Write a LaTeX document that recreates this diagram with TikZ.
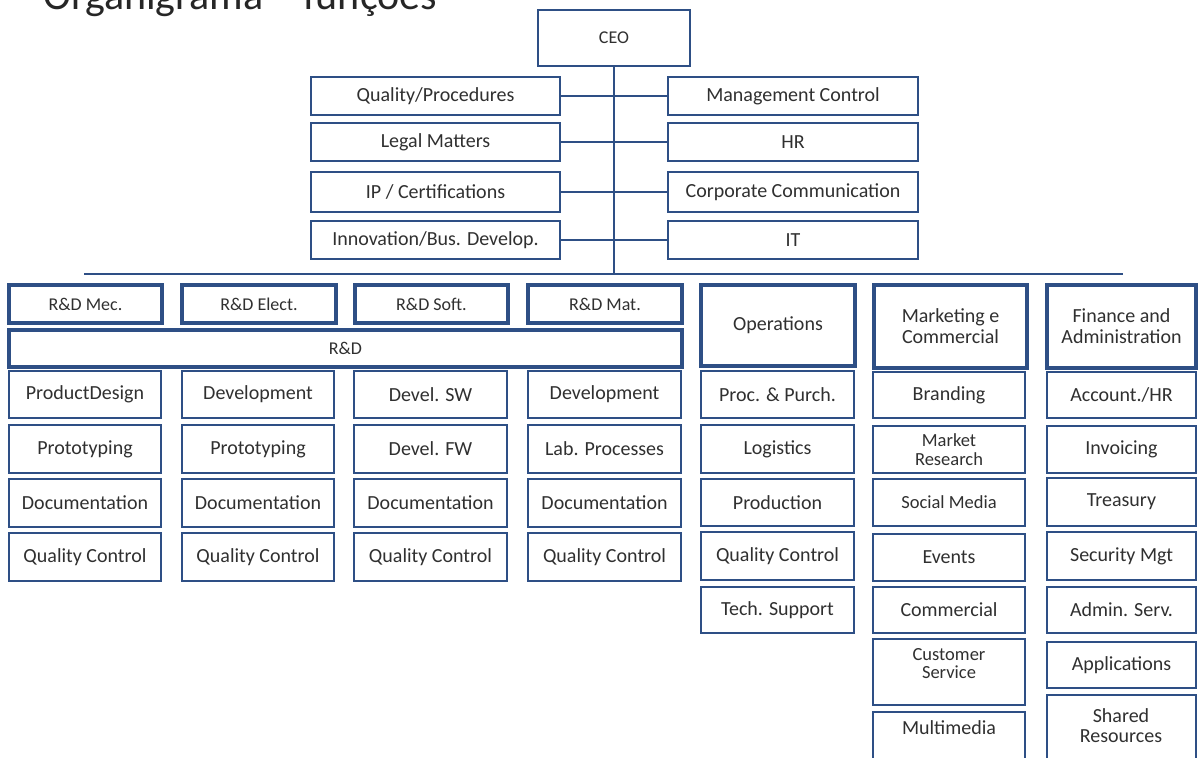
\documentclass[tikz,border=0pt]{standalone}
\usepackage{fontspec}
\setmainfont{Carlito}
\definecolor{bcol}{HTML}{2E4F85}
\definecolor{tcol}{HTML}{303030}
\newcommand{\bx}[7][]{%
  \pgfmathsetmacro\bxw{#5-#3}\pgfmathsetmacro\bxh{#6-#4}%
  \pgfmathsetmacro\bxcx{(#3+#5)/2}\pgfmathsetmacro\bxcy{(#4+#6)/2}%
  \node[box,#1,minimum width=\bxw pt,minimum height=\bxh pt] (#2) at (\bxcx,\bxcy) {#7};}
\begin{document}
\begin{tikzpicture}[x=1pt,y=-1pt,
  box/.style={draw=bcol,line width=2.8pt,fill=white,inner sep=0pt,align=center,text=tcol,font=\fontsize{20}{21}\selectfont},
  head/.style={line width=4.2pt},
  small/.style={font=\fontsize{18}{19}\selectfont},
  lbl/.style={inner sep=0pt,align=center,text=tcol,font=\fontsize{18.5}{18}\selectfont},
  conn/.style={draw=bcol,line width=2.6pt}]
\useasboundingbox (0,0) rectangle (1198,757);
\clip (0,0) rectangle (1198,757);
\node[anchor=base west,inner sep=0pt,text=black!85,font=\fontsize{42}{46}\selectfont] (title) at (43,10) {Organigrama – funções};
% CEO and staff
\bx[small]{ceo}{538}{10}{690}{66}{CEO}
\bx{qp}{311}{77}{560}{115}{Quality/Procedures}
\bx{lm}{311}{123}{560}{161}{Legal Matters}
\bx{ipc}{311}{172}{560}{212}{IP / Certifications}
\bx{inn}{311}{221}{560}{259}{Innovation/Bus. Develop.}
\bx{mc}{668}{77}{918}{115}{Management Control}
\bx{hr}{668}{123}{918}{161}{HR}
\bx{cc}{668}{172}{918}{212}{Corporate Communication}
\bx{it}{668}{221}{918}{259}{IT}
\coordinate (hl) at (84,274);
\coordinate (hr2) at (1123,274);
\draw[conn] (hl) -- (hr2);
\draw[conn] (ceo.south) -- (ceo.south |- hl);
\draw[conn] (qp.east) -- (mc.west);
\draw[conn] (lm.east) -- (hr.west);
\draw[conn] (ipc.east) -- (cc.west);
\draw[conn] (inn.east) -- (it.west);
% R&D
\bx[head,small]{rdm}{9}{285}{162}{323}{R\&D Mec.}
\bx[head,small]{rde}{182}{285}{336}{323}{R\&D Elect.}
\bx[head,small]{rds}{355}{285}{508}{323}{R\&D Soft.}
\bx[head,small]{rdt}{528}{285}{682}{323}{R\&D Mat.}
\bx[head,small]{rd}{9}{330}{682}{367}{R\&D}
\bx{a1}{9}{371}{161}{418}{ProductDesign}
\bx{a2}{9}{425}{161}{473}{Prototyping}
\bx{a3}{9}{479}{161}{527}{Documentation}
\bx{a4}{9}{533}{161}{581}{Quality Control}
\bx{b1}{182}{371}{334}{418}{Development}
\bx{b2}{182}{425}{334}{473}{Prototyping}
\bx{b3}{182}{479}{334}{527}{Documentation}
\bx{b4}{182}{533}{334}{581}{Quality Control}
\bx{c1}{354}{371}{507}{418}{Devel. SW}
\bx{c2}{354}{425}{507}{473}{Devel. FW}
\bx{c3}{354}{479}{507}{527}{Documentation}
\bx{c4}{354}{533}{507}{581}{Quality Control}
\bx{d1}{528}{371}{681}{418}{Development}
\bx{d2}{528}{425}{681}{473}{Lab. Processes}
\bx{d3}{528}{479}{681}{527}{Documentation}
\bx{d4}{528}{533}{681}{581}{Quality Control}
% Operations
\bx[head]{ops}{701}{285}{855}{366}{Operations}
\bx{o1}{701}{371}{854}{418}{Proc. \& Purch.}
\bx{o2}{701}{425}{854}{473}{Logistics}
\bx{o3}{701}{479}{854}{526}{Production}
\bx{o4}{701}{532}{854}{580}{Quality Control}
\bx{o5}{701}{587}{854}{633}{Tech. Support}
% Marketing
\bx[head]{mkt}{874}{285}{1027}{368}{Marketing e\\Commercial}
\bx{m1}{873}{372}{1025}{418}{Branding}
\bx[small,font=\fontsize{18.5}{19}\selectfont]{m2}{873}{426}{1025}{473}{Market\\Research}
\bx[small,font=\fontsize{18.5}{19}\selectfont]{m3}{873}{479}{1025}{526}{Social Media}
\bx{m4}{873}{534}{1025}{581}{Events}
\bx{m5}{873}{587}{1025}{633}{Commercial}
\bx{m6}{873}{639}{1025}{705}{}
\node[lbl] (m6t) at (949,664) {Customer\\Service};
\bx{m7}{873}{712}{1025}{775}{}
\node[lbl,font=\fontsize{20}{21}\selectfont] (m7t) at (949,728) {Multimedia};
% Finance
\bx[head]{fin}{1047}{285}{1196}{368}{Finance and\\Administration}
\bx{f1}{1047}{372}{1196}{418}{Account./HR}
\bx{f2}{1047}{426}{1196}{473}{Invoicing}
\bx{f3}{1047}{478}{1196}{526}{Treasury}
\bx{f4}{1047}{532}{1196}{580}{Security Mgt}
\bx{f5}{1047}{587}{1196}{633}{Admin. Serv.}
\bx{f6}{1047}{642}{1196}{688}{Applications}
\bx{f7}{1047}{695}{1196}{775}{}
\node[lbl,font=\fontsize{20}{20}\selectfont] (f7t) at (1121,726) {Shared\\Resources};
\end{tikzpicture}
\end{document}
